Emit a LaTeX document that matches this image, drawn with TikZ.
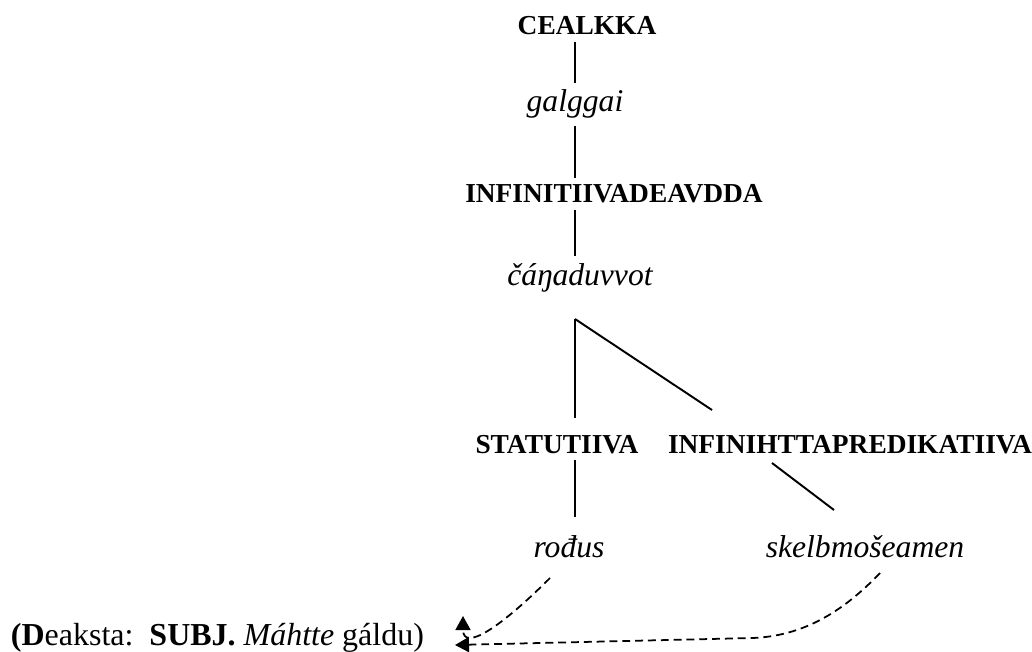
\documentclass[tikz,border=0pt]{standalone}
\usepackage{fontspec}
\setmainfont{Liberation Serif}
\usetikzlibrary{arrows.meta}
\tikzset{every picture/.style={line width=1.1pt}}
\tikzstyle{cat}=[anchor=base,font=\fontsize{15.6}{18}\selectfont\bfseries]
\tikzstyle{word}=[anchor=base,font=\fontsize{18}{21}\selectfont\itshape]
\tikzstyle{link}=[dash pattern=on 4.5pt off 2.8pt,line width=1pt,-{Triangle[length=0.28cm,width=0.3cm]}]

\begin{document}
\begin{tikzpicture}[x=0.02cm,y=-0.02cm]
\useasboundingbox (0,0) rectangle (1032,652);
\node[cat] (C) at (587,35) {CEALKKA};
\node[word] (G) at (575,112) {galggai};
\node[cat] (I) at (614,203) {INFINITIIVADEAVDDA};
\node[word] (A) at (580,285) {čáŋaduvvot};
\node[cat] (S) at (557,453) {STATUTIIVA};
\node[cat] (P) at (850,453) {INFINIHTTAPREDIKATIIVA};
\node[word] (R) at (569,557) {rođus};
\node[word] (K) at (865,557) {skelbmošeamen};
\node[anchor=base west,inner sep=0pt,font=\fontsize{18.2}{21}\selectfont] (D) at (10,645)
  {\textbf{(D}eaksta:~~\textbf{SUBJ.} \textit{Máhtte} gáldu)};
\coordinate (V) at (575,319);
\coordinate (Vs) at (575,418);
\coordinate (Vp) at (712,410);
\coordinate (Rt) at (575,517);
\coordinate (Pb) at (772,463);
\coordinate (Kt) at (834,510);
\path
(C.south -| G) edge (G.north)
(G.south) edge (G |- I.north)
(G |- I.south) edge (G |- A.north)
(V) edge (Vs)
(V) edge (Vp)
(S.south -| V) edge (Rt)
(Pb) edge (Kt);
% dashed links to the example sentence
\coordinate (Rd) at (550,578);
\coordinate (Kd) at (880,573);
\coordinate (Ta) at (463,616);
\coordinate (Tb) at (455,645);
\draw[link] (Rd) .. controls (500,628) and (463,652) .. (Ta);
\draw[link] (Kd) .. controls (840,615) and (800,636) .. (753,638) -- (Tb);
\end{tikzpicture}
\end{document}
